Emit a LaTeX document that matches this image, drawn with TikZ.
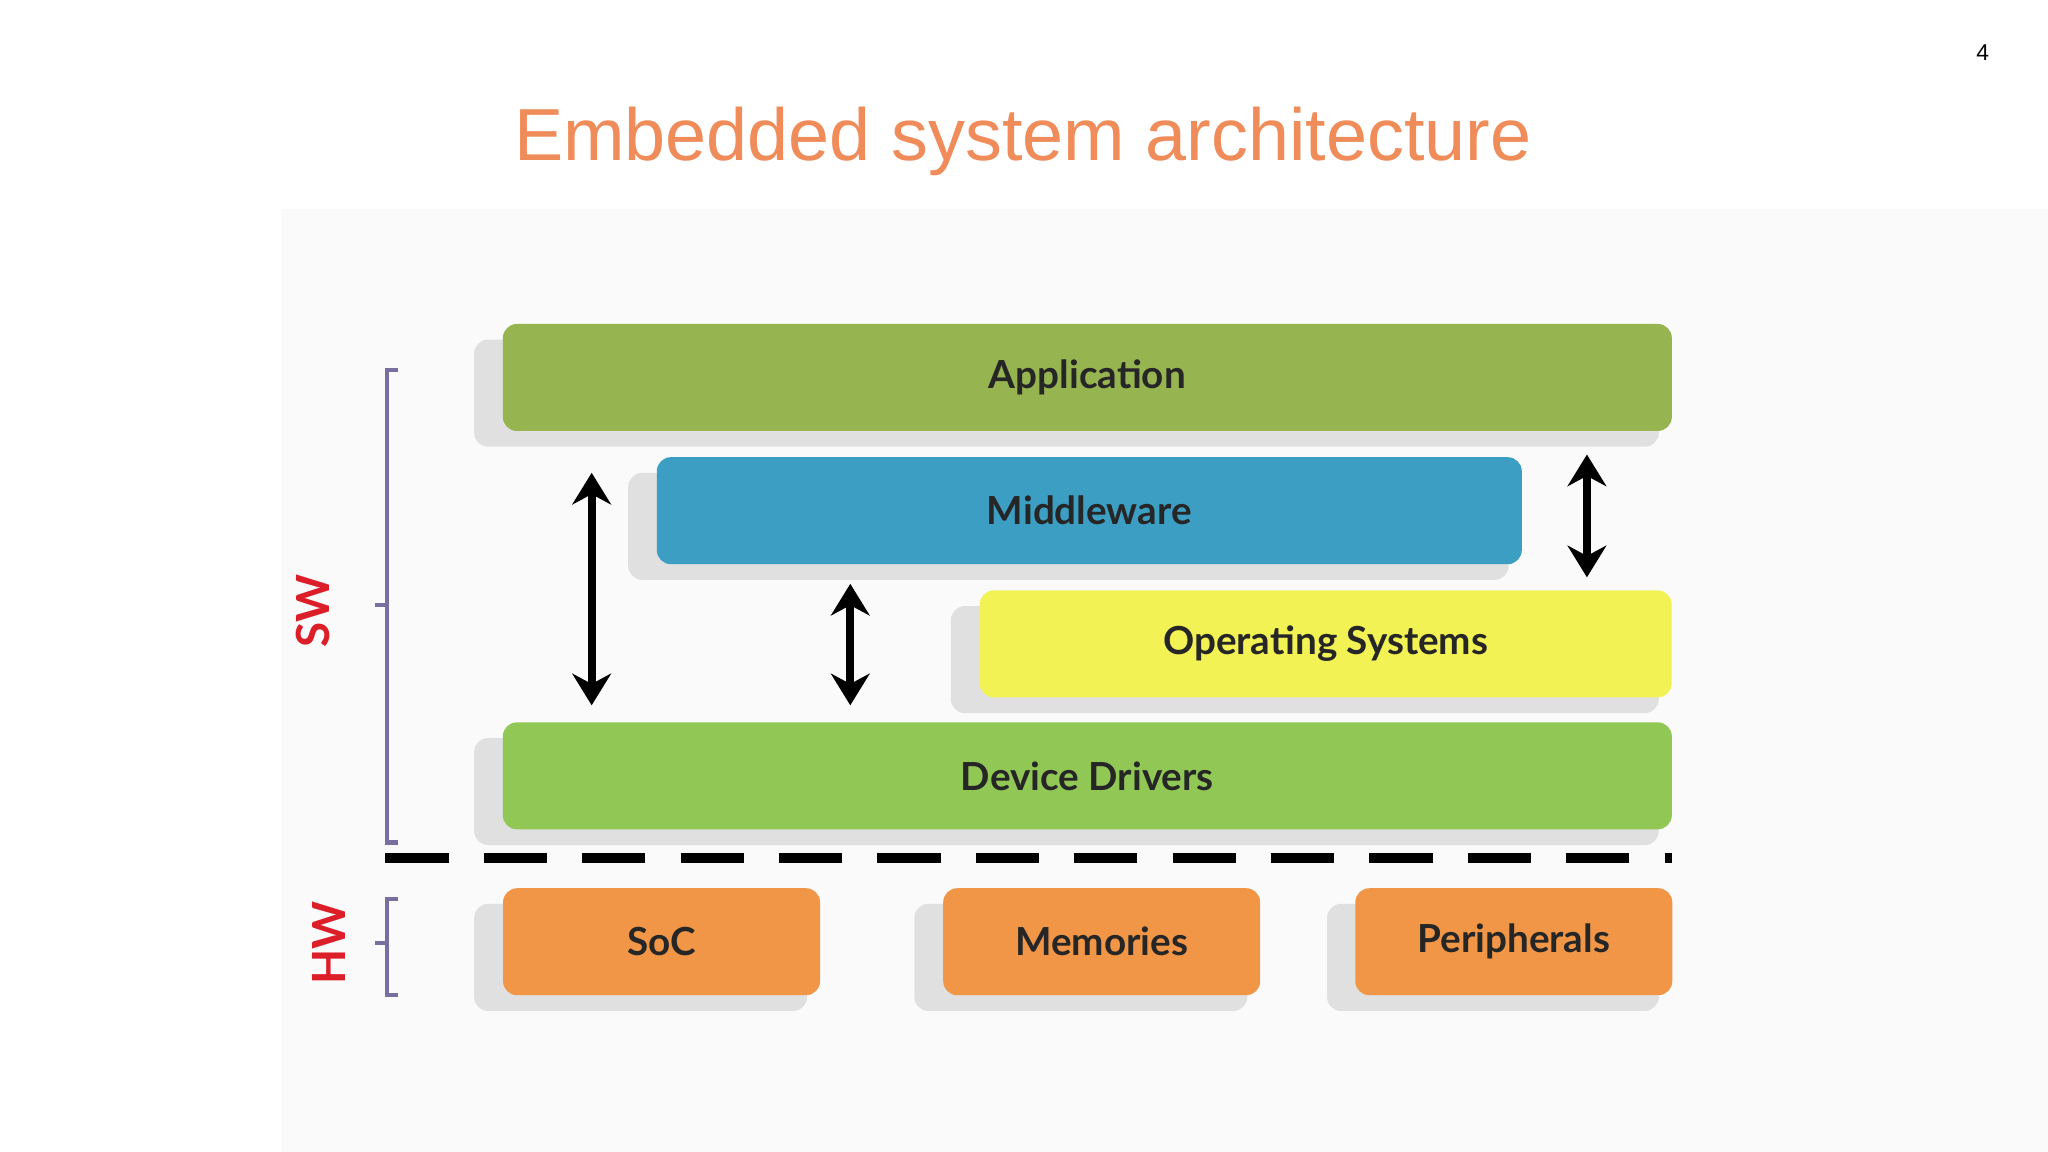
\documentclass[tikz,border=0pt]{standalone}
\usepackage{fontspec}
\setmainfont{Lato}
\newfontfamily\titlefont{Liberation Sans}
\usetikzlibrary{positioning,arrows.meta}
\definecolor{appgreen}{RGB}{150,180,80}
\definecolor{mwblue}{RGB}{60,158,195}
\definecolor{osyellow}{RGB}{242,242,85}
\definecolor{ddgreen}{RGB}{145,200,85}
\definecolor{hworange}{RGB}{240,150,70}
\definecolor{titleorange}{RGB}{240,140,90}
\definecolor{bracketpurple}{RGB}{120,110,160}
\definecolor{labelred}{RGB}{220,30,40}

\tikzset{
  layer/.style={rounded corners=4pt, minimum height=1.07cm, inner sep=0pt,
    font=\fontsize{11}{13}\selectfont\bfseries, text=black!85},
  updown/.style={<->, line width=2.2pt, >={Stealth[length=9pt,width=11pt]}},
  side/.style={font=\fontsize{13}{15}\selectfont\bfseries, text=labelred, rotate=90}
}

\begin{document}
\begin{tikzpicture}[x=0.01306cm, y=-0.01306cm]
  \useasboundingbox (0,0) rectangle (1568,882);
  \fill[white] (0,0) rectangle (1568,882);
  \fill[black!2] (215,160) rectangle (1568,882);

  % title and page number
  \node (title) at (783,108) {\titlefont\fontsize{21}{25}\selectfont\color{titleorange}Embedded system architecture};
  \node (page) at (1518,40) {\titlefont\fontsize{6.5}{8}\selectfont 4};

  % soft shadows
  \foreach \xa/\ya/\xb/\yb in {385/248/1280/330, 503/350/1165/432, 750/452/1280/534,
      385/553/1280/635, 385/680/628/762, 722/680/965/762, 1038/680/1280/762}
    \fill[black!12, rounded corners=4pt] (\xa-22,\ya+12) rectangle (\xb-10,\yb+12);

  % software layers
  \node[layer, fill=appgreen, minimum width=11.69cm] (app) at (832.5,289) {Application};
  \node[layer, fill=mwblue, minimum width=8.65cm] (mw) at (834,391) {Middleware};
  \node[layer, fill=osyellow, minimum width=6.92cm] (os) at (1015,493) {Operating Systems};
  \node[layer, fill=ddgreen, minimum width=11.69cm] (dd) at (832.5,594) {Device Drivers};

  % hardware blocks
  \node[layer, fill=hworange, minimum width=3.17cm] (soc) at (506.5,721) {SoC};
  \node[layer, fill=hworange, minimum width=3.17cm] (mem) at (843.5,721) {Memories};
  \node[layer, fill=hworange, minimum width=3.17cm] (per) at (1159,721) {Peripherals};

  % interaction arrows
  \coordinate (a1t) at (453,362); \coordinate (a1b) at (453,540);
  \coordinate (a2t) at (651,447); \coordinate (a2b) at (651,540);
  \coordinate (a3t) at (1215,348); \coordinate (a3b) at (1215,442);
  \draw[updown] (a1t) -- (a1b);
  \draw[updown] (a2t) -- (a2b);
  \draw[updown] (a3t) -- (a3b);

  % sw/hw border
  \coordinate (bl) at (295,657); \coordinate (br) at (1280,657);
  \draw[line width=2.8pt, dash pattern=on 18pt off 10pt] (bl) -- (br);

  % brackets
  \draw[bracketpurple, line width=1.2pt] (305,283) -- (296,283) -- (296,645) -- (305,645);
  \draw[bracketpurple, line width=1.2pt] (296,463) -- (287,463);
  \draw[bracketpurple, line width=1.2pt] (305,688) -- (296,688) -- (296,762) -- (305,762);
  \draw[bracketpurple, line width=1.2pt] (296,722) -- (287,722);
  \node[side] (sw) at (240,468) {SW};
  \node[side] (hw) at (252,722) {HW};
\end{tikzpicture}
\end{document}
